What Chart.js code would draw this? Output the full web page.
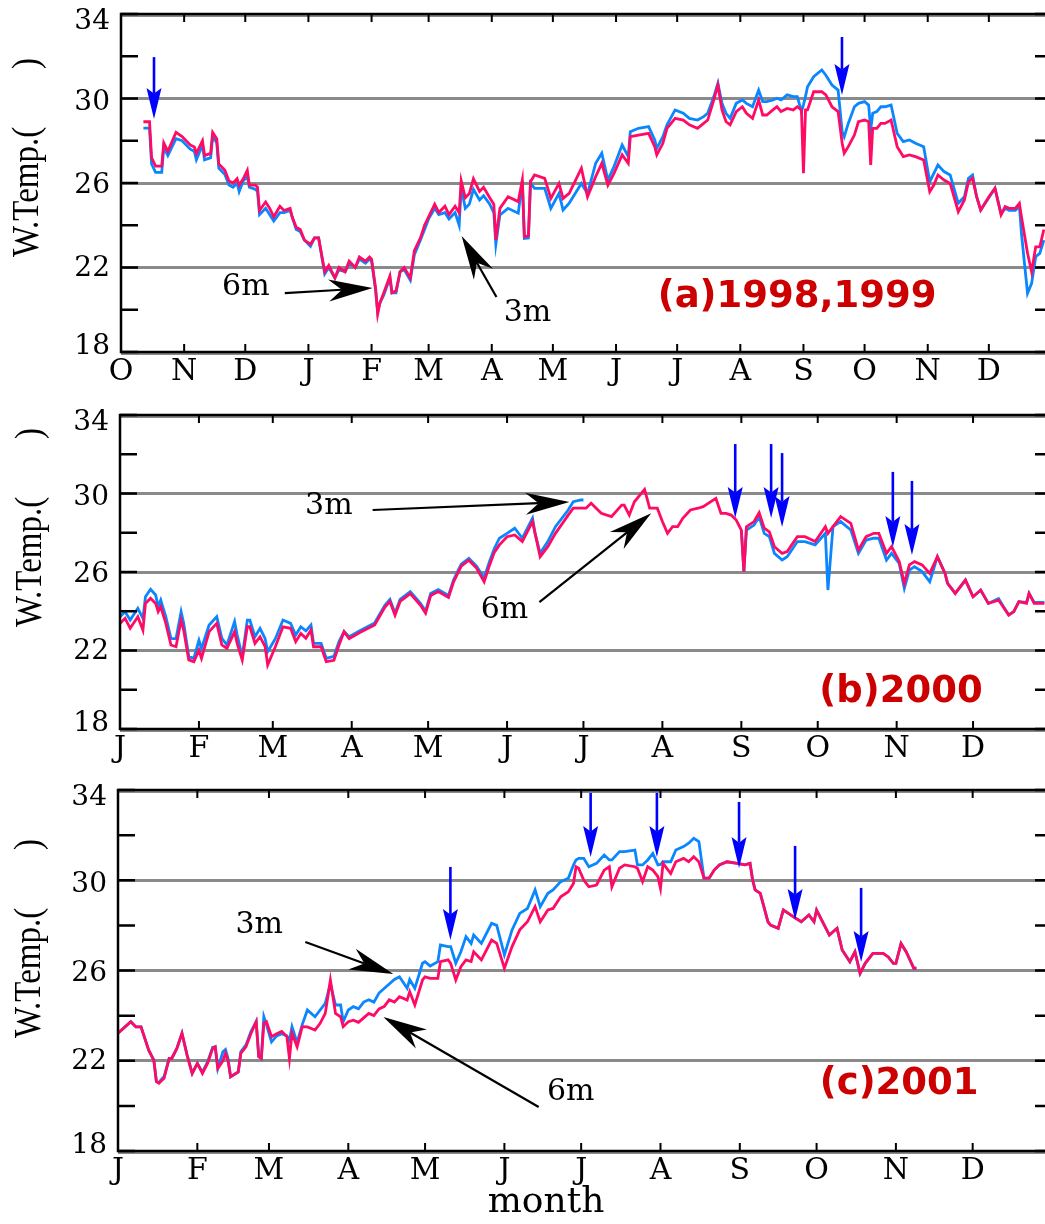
<!DOCTYPE html>
<html><head><meta charset="utf-8">
<script src="https://cdn.jsdelivr.net/npm/chart.js@4.4.0/dist/chart.umd.min.js"></script>
<style>
html,body{margin:0;padding:0;background:#fff;overflow:hidden;width:1045px;height:1224px;position:relative;}
.wrap{position:absolute;left:0;}
canvas{display:block;}
</style></head><body>
<div class="wrap" style="top:0px"><canvas id="cA" width="1062" height="390"></canvas></div>
<div class="wrap" style="top:390px"><canvas id="cB" width="1062" height="390"></canvas></div>
<div class="wrap" style="top:780px"><canvas id="cC" width="1062" height="444"></canvas></div>
<script>
// ---------------- DATA ----------------
// y axis
const yLabelValues = [18, 22, 26, 30, 34];
const yMinorValues = [18, 20, 22, 24, 26, 28, 30, 32, 34];
const yGridValues = [22, 26, 30];

// (a) Oct 1998 - Dec 1999 ; x = days since 1 Oct 1998
const monthLabelsA = ['O','N','D','J','F','M','A','M','J','J','A','S','O','N','D'];
const monthDaysA = [0,31,61,92,123,151,182,212,243,273,304,335,365,396,426];
const daysA = [11,14,15,17,20,21,23,27,30,34,36,37,40,41,44,45,47,48,51,53,55,57,58,60,62,63,66,67,68,71,73,75,78,80,83,84,86,88,90,93,95,97,100,102,105,107,110,112,115,117,120,122,123,125,126,127,129,132,133,135,137,139,142,144,147,149,151,154,156,159,161,164,166,167,169,171,173,176,178,181,183,184,186,190,195,197,198,200,201,203,208,211,215,217,220,226,229,233,236,239,242,246,249,250,254,259,262,263,266,268,272,276,279,283,286,288,291,293,295,297,299,302,305,307,310,313,315,317,320,322,324,327,330,332,334,335,336,337,340,344,346,349,352,354,355,357,360,362,365,367,368,369,371,373,375,378,381,384,387,390,394,397,399,401,404,407,411,414,416,418,420,422,426,429,432,434,436,439,441,442,445,447,449,451,453];
const temp6mA = [28.9,28.9,27.2,26.8,26.8,27.9,27.5,28.4,28.2,27.8,27.7,27.4,28.0,27.3,27.4,28.4,28.1,26.9,26.6,26.1,26.0,26.2,25.9,26.2,26.6,25.9,25.9,25.8,24.7,25.1,24.8,24.4,24.9,24.7,24.8,24.4,23.9,23.8,23.3,23.1,23.4,23.4,21.8,22.1,21.5,22.0,21.8,22.3,22.0,22.5,22.3,22.5,22.4,21.0,19.8,20.3,20.8,21.6,20.8,20.9,21.8,22.0,21.5,22.8,23.4,24.0,24.4,25.0,24.6,24.9,24.5,24.9,24.6,26.1,25.3,25.5,26.2,25.6,25.8,25.3,25.0,23.3,24.8,25.35,25.12,26.14,23.46,23.5,26.06,26.38,26.22,25.27,25.98,25.27,25.51,26.7,25.35,26.3,26.93,25.9,26.46,27.33,26.93,28.19,28.27,28.35,27.72,27.33,27.88,28.59,29.06,28.98,28.75,28.59,28.82,28.98,29.93,30.64,29.46,28.9,28.75,29.38,29.61,29.3,29.06,29.93,29.22,29.22,29.46,29.61,29.38,29.53,29.46,29.61,29.46,26.46,29.46,29.46,30.32,30.32,30.17,29.61,29.38,27.88,27.41,27.72,28.27,28.9,28.98,28.9,26.85,28.59,28.59,28.82,28.82,28.98,27.72,27.25,27.33,27.25,27.09,25.59,25.9,26.38,26.14,25.98,24.64,25.2,26.06,26.22,25.35,24.72,25.35,25.75,24.49,24.88,24.8,24.8,25.04,24.41,22.67,21.8,22.98,22.98,23.8];
const temp3mA = [28.6,28.6,26.9,26.5,26.5,27.7,27.3,28.1,28.0,27.6,27.5,27.1,27.8,27.1,27.2,28.2,27.9,26.7,26.4,25.9,25.8,26.0,25.6,26.1,26.3,25.8,25.7,25.6,24.5,24.8,24.5,24.2,24.6,24.6,24.7,24.4,23.8,23.7,23.3,23.0,23.4,23.4,21.7,22.0,21.5,21.9,21.8,22.2,22.0,22.4,22.2,22.4,22.3,20.9,19.9,20.3,20.7,21.5,20.8,20.8,21.8,21.9,21.4,22.6,23.3,23.8,24.3,24.8,24.5,24.6,24.3,24.6,24.0,25.8,24.8,25.0,25.7,25.2,25.4,25.0,24.6,23.1,24.49,24.8,24.57,26.1,23.38,23.4,26.0,25.75,25.75,24.8,25.51,24.72,25.04,25.98,25.5,26.93,27.41,26.14,26.78,27.8,27.25,28.43,28.59,28.67,28.04,27.64,28.19,28.75,29.46,29.3,29.06,28.98,29.14,29.3,30.09,30.72,29.77,29.3,29.06,29.77,29.93,29.77,29.61,30.4,29.85,29.85,29.93,30.01,29.93,30.17,30.09,30.09,29.38,29.7,30.1,30.56,31.03,31.35,31.1,30.64,30.4,28.43,28.19,28.82,29.61,29.77,29.85,29.69,28.51,29.3,29.38,29.61,29.61,29.69,28.35,27.96,28.04,27.88,27.72,26.06,26.46,26.85,26.54,26.38,25.04,25.35,26.22,26.38,25.35,24.72,25.3,25.75,24.55,24.8,24.7,24.7,24.9,23.62,20.78,21.25,22.51,22.67,23.3];

// (b) 2000 ; x = days since 1 Jan 2000
const monthLabelsB = ['J','F','M','A','M','J','J','A','S','O','N','D'];
const monthDaysB = [0,31,60,91,121,152,182,213,244,274,305,335];
const daysB = [0,2,4,7,9,10,12,14,15,16,18,20,22,24,25,27,29,31,32,35,38,40,42,45,46,48,50,51,53,55,57,58,61,64,67,69,71,73,75,76,79,81,84,86,88,90,94,100,104,106,108,110,114,118,120,122,125,129,131,134,137,140,143,145,147,149,152,155,158,162,163,165,168,171,176,178,181,182,183,185,189,193,197,198,200,202,206,208,211,213,215,217,219,221,224,227,229,234,236,238,240,242,244,245,246,249,251,253,255,257,260,262,266,269,273,277,278,280,283,287,290,293,296,298,301,303,306,308,310,312,315,318,321,324,325,328,332,335,338,341,345,349,351,353,356,357,359,363];
const temp6mB = [23.38,23.64,23.13,23.72,23.04,24.4,24.66,24.4,23.98,24.23,23.38,22.28,22.19,23.55,23.04,21.52,21.43,22.02,21.6,22.96,23.38,22.28,22.11,22.96,22.36,21.52,23.21,23.21,22.36,22.7,22.2,21.26,22.19,23.21,23.13,22.45,22.87,22.62,23.04,22.19,22.19,21.43,21.5,22.28,22.96,22.6,22.9,23.3,24.2,24.5,23.8,24.5,24.9,24.3,23.9,24.8,25.0,24.7,25.5,26.3,26.6,26.2,25.5,26.3,27.0,27.38,27.8,27.89,27.55,28.57,27.97,26.78,27.29,27.97,28.9,29.25,29.25,29.25,29.25,29.5,28.99,28.82,29.41,29.41,28.9,29.58,30.21,29.25,29.25,28.57,27.97,28.31,28.31,28.74,29.16,29.25,29.33,29.75,28.99,28.99,28.9,28.65,28.14,26.02,28.31,28.57,29.02,28.23,28.05,27.29,26.95,27.04,27.8,27.8,27.55,28.31,27.97,28.31,28.82,28.48,27.12,27.8,27.97,27.97,26.95,27.29,26.53,25.42,26.36,26.53,26.36,25.93,26.78,25.93,25.42,24.91,25.59,24.74,25.08,24.4,24.57,23.81,23.98,24.49,24.4,24.91,24.4,24.4];
const temp3mB = [23.72,23.98,23.55,24.15,23.64,24.74,25.12,24.83,24.23,24.57,23.72,22.62,22.6,23.98,23.4,21.69,21.6,22.53,22.11,23.3,23.72,22.62,22.28,23.47,22.8,21.69,23.55,23.55,22.7,23.13,22.6,21.94,22.6,23.55,23.38,22.79,23.21,23.0,23.3,22.36,22.36,21.6,21.7,22.45,22.96,22.7,23.0,23.4,24.3,24.6,23.9,24.6,25.0,24.4,24.0,24.9,25.1,24.8,25.6,26.4,26.7,26.3,25.7,26.5,27.2,27.72,27.97,28.23,27.72,28.74,27.97,26.95,27.55,28.31,29.16,29.58,29.67,29.67,null,null,null,null,null,null,null,null,null,null,null,null,null,null,null,null,null,null,null,null,null,null,null,null,28.14,26.02,28.14,28.39,28.82,27.97,27.8,26.95,26.61,26.78,27.55,27.55,27.38,27.97,25.08,28.31,28.57,28.14,26.95,27.63,27.72,27.72,26.61,26.95,26.44,25.17,26.1,26.27,26.02,25.5,26.78,25.93,25.42,24.91,25.59,24.74,25.08,24.4,24.65,23.81,23.98,24.49,24.45,24.91,24.45,24.45];

// (c) 2001 ; x = days since 1 Jan 2001
const monthLabelsC = ['J','F','M','A','M','J','J','A','S','O','N','D'];
const monthDaysC = [0,31,59,90,120,151,181,212,243,273,304,334];
const daysC = [0,5,7,9,12,14,15,16,18,20,21,23,25,27,29,31,33,35,37,38,39,41,42,43,44,47,48,50,52,54,55,56,57,58,60,62,64,66,67,68,70,72,74,77,79,81,83,85,87,88,90,92,94,96,98,100,102,104,106,108,110,113,114,116,119,120,122,125,126,129,130,132,134,136,138,139,142,146,148,151,154,157,160,163,165,168,170,173,176,178,179,180,182,184,187,190,192,193,196,198,202,203,205,207,209,211,212,213,216,218,221,223,225,227,229,231,233,235,238,242,245,247,248,249,251,254,255,258,260,262,264,267,270,272,273,276,278,281,283,286,288,290,292,295,299,301,303,304,306,308,311,312];
const temp6mC = [23.22,23.73,23.5,23.5,22.47,22.03,21.07,21.0,21.22,22.1,22.1,22.55,23.22,22.25,21.44,21.88,21.44,21.88,22.55,22.62,21.66,22.0,22.33,22.0,21.29,21.51,22.33,22.62,23.22,23.73,22.18,22.1,23.66,23.73,23.07,23.2,23.3,23.07,22.1,23.22,22.62,23.51,23.5,23.36,23.66,24.1,25.58,24.1,23.95,23.51,23.73,23.8,23.7,23.9,24.1,24.0,24.3,24.4,24.7,24.6,24.84,24.69,25.06,24.47,25.58,25.72,25.65,25.65,26.39,26.47,26.32,25.58,26.17,26.47,26.4,26.83,26.47,27.35,27.2,26.1,27.06,27.8,28.16,28.83,28.16,28.68,28.75,29.27,29.49,29.86,30.6,30.53,30.01,29.71,29.79,30.45,30.6,29.71,30.53,30.68,30.6,30.53,29.94,30.6,30.45,30.16,29.64,30.75,30.3,30.82,30.97,30.82,31.04,30.82,30.09,30.09,30.45,30.68,30.82,30.75,30.68,30.75,30.01,29.57,29.42,28.16,28.01,27.87,28.68,28.53,28.38,28.16,28.46,28.16,28.68,28.01,27.57,27.87,26.91,26.39,26.83,25.87,26.32,26.76,26.76,26.6,26.32,26.32,27.2,26.83,26.1,26.1];
const temp3mC = [23.22,23.73,23.5,23.5,22.47,22.03,21.1,21.05,21.3,22.1,22.1,22.55,23.22,22.25,21.44,21.88,21.5,21.95,22.6,22.62,21.66,22.4,22.5,22.1,21.29,21.51,22.4,22.7,23.3,23.73,22.2,22.1,23.95,23.6,22.84,23.1,23.2,23.1,22.9,23.51,22.8,23.6,24.25,23.95,24.25,24.54,25.4,24.47,24.47,23.73,24.25,24.4,24.3,24.6,24.7,24.6,25.0,25.2,25.4,25.6,25.72,25.21,25.6,25.21,26.32,26.39,26.2,26.39,27.13,27.06,27.06,26.32,26.83,27.5,27.2,27.57,27.2,28.09,28.0,26.69,27.8,28.53,28.75,29.57,28.83,29.42,29.57,29.94,30.09,30.68,30.9,30.97,30.97,30.6,30.75,31.12,30.9,30.9,31.27,31.27,31.34,30.68,30.68,30.9,31.19,30.68,30.7,30.82,30.82,31.34,31.49,31.64,31.86,31.71,30.09,30.09,30.45,30.68,30.82,30.75,30.68,30.75,30.01,29.57,29.42,28.16,28.01,27.87,28.68,28.53,28.38,28.16,28.46,28.16,28.68,28.01,27.57,27.87,26.91,26.39,26.83,25.87,26.32,26.76,26.76,26.6,26.32,26.32,27.2,26.83,26.1,26.1];

// annotations (data coordinates: day, temperature)
const blueArrowsA = [[16.2, 31.96, 29.03], [353.9, 32.91, 30.17]];
const blackArrowsA = [[80.4, 20.79, 123.5, 21.03], [184.3, 20.6, 167.2, 23.49]];
const notesA = [['6m', 61.3, 21.05], ['3m', 199.5, 19.85]];
const blueArrowsB = [[241.6, 32.52, 28.75], [255.7, 32.52, 28.75], [260.0, 32.06, 28.29], [303.5, 31.10, 27.27], [311.0, 30.64, 26.87]];
const blackArrowsB = [[99.2, 29.16, 176.5, 29.57], [164.7, 24.47, 208.6, 29.0]];
const notesB = [['3m', 82.0, 29.36], ['6m', 151.0, 24.06]];
const blueArrowsC = [[129.9, 30.59, 27.35], [184.7, 33.87, 31.03], [210.6, 33.87, 31.03], [242.7, 33.47, 30.54], [264.6, 31.52, 28.24], [290.4, 29.66, 26.38]];
const blackArrowsC = [[73.2, 27.26, 107.6, 25.84], [164.4, 19.95, 103.7, 23.94]];
const notesC = [['3m', 55.2, 28.02], ['6m', 176.9, 20.61]];
const titleA = ['(a)1998,1999', 331.9, 20.6];
const titleB = ['(b)2000', 306.7, 19.89];
const titleC = ['(c)2001', 305.3, 20.97];
const yTitleLeft = 'W.Temp.(';
const yTitleRight = ')';
const xTitle = 'month';

// ---------------- STYLE ----------------
const PINK = '#ff0a64';
const BLUE = '#0a86ff';
const ARROW_BLUE = '#0000ff';
const GRID = '#8a8a8a';
const SERIF = '"DejaVu Serif", "Liberation Serif", serif';
const TIMES = '"Liberation Serif", "DejaVu Serif", serif';
const SANS = '"DejaVu Sans", "Liberation Sans", sans-serif';
// vertical nudges (px) of the y tick labels, keeping the end labels inside the frame
const yLabelNudge = { 18: -5, 22: 1, 26: 3, 30: 4, 34: 8 };

function drawArrow(ctx, x1, y1, x2, y2, L, W, notch, color, lw) {
  const ang = Math.atan2(y2 - y1, x2 - x1);
  const ux = Math.cos(ang), uy = Math.sin(ang);
  const nx = -uy, ny = ux;
  const bx = x2 - ux * L, by = y2 - uy * L;
  const mx = x2 - ux * L * notch, my = y2 - uy * L * notch;
  ctx.strokeStyle = color; ctx.lineWidth = lw; ctx.lineCap = 'butt';
  ctx.beginPath(); ctx.moveTo(x1, y1); ctx.lineTo(mx, my); ctx.stroke();
  ctx.fillStyle = color;
  ctx.beginPath();
  ctx.moveTo(x2, y2);
  ctx.lineTo(bx + nx * W, by + ny * W);
  ctx.lineTo(mx, my);
  ctx.lineTo(bx - nx * W, by - ny * W);
  ctx.closePath(); ctx.fill();
}

function makePlugin(p) {
  return {
    id: 'deco' + p.id,
    afterDatasetsDraw(chart) {
      const ctx = chart.ctx, ca = chart.chartArea;
      const xs = chart.scales.x, ys = chart.scales.y;
      const X = v => xs.getPixelForValue(v), Y = v => ys.getPixelForValue(v);
      ctx.save();
      // frame: gray under-line + black border
      ctx.strokeStyle = GRID; ctx.lineWidth = 2;
      ctx.beginPath();
      ctx.moveTo(ca.left, ca.top + 2); ctx.lineTo(ca.right, ca.top + 2);
      ctx.moveTo(ca.left, ca.bottom + 2); ctx.lineTo(ca.right, ca.bottom + 2);
      ctx.stroke();
      ctx.strokeStyle = '#000'; ctx.lineWidth = 2.5;
      ctx.beginPath();
      ctx.moveTo(ca.left, ca.top); ctx.lineTo(ca.right, ca.top);
      ctx.lineTo(ca.right, ca.bottom); ctx.lineTo(ca.left, ca.bottom); ctx.closePath();
      ctx.stroke();
      // y ticks (inward, both sides)
      ctx.lineWidth = 2.5;
      ctx.beginPath();
      yMinorValues.forEach(v => {
        const y = Y(v);
        ctx.moveTo(ca.left, y); ctx.lineTo(ca.left + 17, y);
        ctx.moveTo(ca.right, y); ctx.lineTo(ca.right - 17, y);
      });
      ctx.stroke();
      // y tick labels
      ctx.fillStyle = '#000';
      ctx.font = '28px ' + SERIF;
      ctx.textAlign = 'right'; ctx.textBaseline = 'middle';
      yLabelValues.forEach(v => ctx.fillText(String(v), ca.left - 11, Y(v) + (yLabelNudge[v] || 0)));
      // x month ticks (inward, top and bottom)
      ctx.lineWidth = 2;
      ctx.beginPath();
      p.monthDays.forEach(d => {
        const x = X(d);
        ctx.moveTo(x, ca.bottom); ctx.lineTo(x, ca.bottom - 8);
        ctx.moveTo(x, ca.top); ctx.lineTo(x, ca.top + 8);
      });
      ctx.stroke();
      // blue arrows
      p.blueArrows.forEach(a => drawArrow(ctx, X(a[0]), Y(a[1]), X(a[0]), Y(a[2]), 31, 7.5, 0.82, ARROW_BLUE, 2.6));
      // black arrows
      p.blackArrows.forEach(a => drawArrow(ctx, X(a[0]), Y(a[1]), X(a[2]), Y(a[3]), 44, 11, 0.7, '#000', 2.2));
      // notes
      ctx.fillStyle = '#000';
      ctx.font = '30px ' + SERIF;
      ctx.textAlign = 'center'; ctx.textBaseline = 'middle';
      p.notes.forEach(n => ctx.fillText(n[0], X(n[1]), Y(n[2])));
      // panel title
      ctx.fillStyle = '#cc0000';
      ctx.font = 'bold 37px ' + SANS;
      ctx.fillText(p.title[0], X(p.title[1]), Y(p.title[2]));
      // y axis title (rotated, glyphs slightly stretched like the original)
      ctx.save();
      ctx.fillStyle = '#000';
      ctx.font = '33px ' + TIMES;
      ctx.translate(p.ytx, p.yty);
      ctx.rotate(-Math.PI / 2);
      ctx.scale(1, 1.12);
      ctx.textBaseline = 'middle';
      ctx.textAlign = 'left';
      ctx.fillText(yTitleLeft, 0, 0);
      ctx.fillText(yTitleRight, 188, 0);
      ctx.restore();
      if (p.showX) {
        ctx.fillStyle = '#000';
        ctx.font = '36px ' + SERIF;
        ctx.textAlign = 'center'; ctx.textBaseline = 'middle';
        ctx.fillText(xTitle, p.xtx, p.xty);
      }
      ctx.restore();
    }
  };
}

function buildPanel(p) {
  const pts = vals => p.days.map((d, i) => ({ x: d, y: vals[i] }));
  return new Chart(document.getElementById(p.canvas), {
    type: 'line',
    data: {
      datasets: [
        { label: '6m', data: pts(p.t6), borderColor: PINK, borderWidth: 2.8, pointRadius: 0, tension: 0, spanGaps: false, fill: false },
        { label: '3m', data: pts(p.t3), borderColor: BLUE, borderWidth: 2.8, pointRadius: 0, tension: 0, spanGaps: false, fill: false }
      ]
    },
    options: {
      responsive: false, animation: false, events: [],
      layout: { padding: { top: p.top, left: 0, right: 10, bottom: 0 } },
      plugins: { legend: { display: false }, tooltip: { enabled: false }, title: { display: false } },
      scales: {
        x: {
          type: 'linear', min: 0, max: p.max,
          afterBuildTicks: s => { s.ticks = p.monthDays.map(v => ({ value: v })); },
          afterFit: s => { s.height = p.xh; s.paddingLeft = 0; s.paddingRight = 0; },
          ticks: { autoSkip: false, maxRotation: 0, minRotation: 0, padding: 2, color: '#000',
                   font: { family: SERIF, size: 30 }, callback: (v, i) => p.monthLabels[i] },
          grid: { display: false, drawTicks: false },
          border: { display: false }
        },
        y: {
          min: 18, max: 34,
          afterBuildTicks: s => { s.ticks = yLabelValues.map(v => ({ value: v })); },
          afterFit: s => { s.width = p.left; s.paddingTop = 0; s.paddingBottom = 0; },
          ticks: { display: false },
          grid: { drawTicks: false, lineWidth: 3,
                  color: c => (c.tick && yGridValues.includes(c.tick.value)) ? GRID : 'rgba(0,0,0,0)' },
          border: { display: false }
        }
      }
    },
    plugins: [makePlugin(p)]
  });
}

buildPanel({ id: 'A', canvas: 'cA', days: daysA, t6: temp6mA, t3: temp3mA, max: 457,
  monthDays: monthDaysA, monthLabels: monthLabelsA, top: 14, left: 121, xh: 38,
  blueArrows: blueArrowsA, blackArrows: blackArrowsA, notes: notesA, title: titleA,
  ytx: 28, yty: 257, showX: false });
buildPanel({ id: 'B', canvas: 'cB', days: daysB, t6: temp6mB, t3: temp3mB, max: 366,
  monthDays: monthDaysB, monthLabels: monthLabelsB, top: 25, left: 120, xh: 51,
  blueArrows: blueArrowsB, blackArrows: blackArrowsB, notes: notesB, title: titleB,
  ytx: 31, yty: 237, showX: false });
buildPanel({ id: 'C', canvas: 'cC', days: daysC, t6: temp6mC, t3: temp3mC, max: 365,
  monthDays: monthDaysC, monthLabels: monthLabelsC, top: 10, left: 118, xh: 73,
  blueArrows: blueArrowsC, blackArrows: blackArrowsC, notes: notesC, title: titleC,
  ytx: 30, yty: 258, showX: true, xtx: 546, xty: 423 });
</script>
</body></html>
